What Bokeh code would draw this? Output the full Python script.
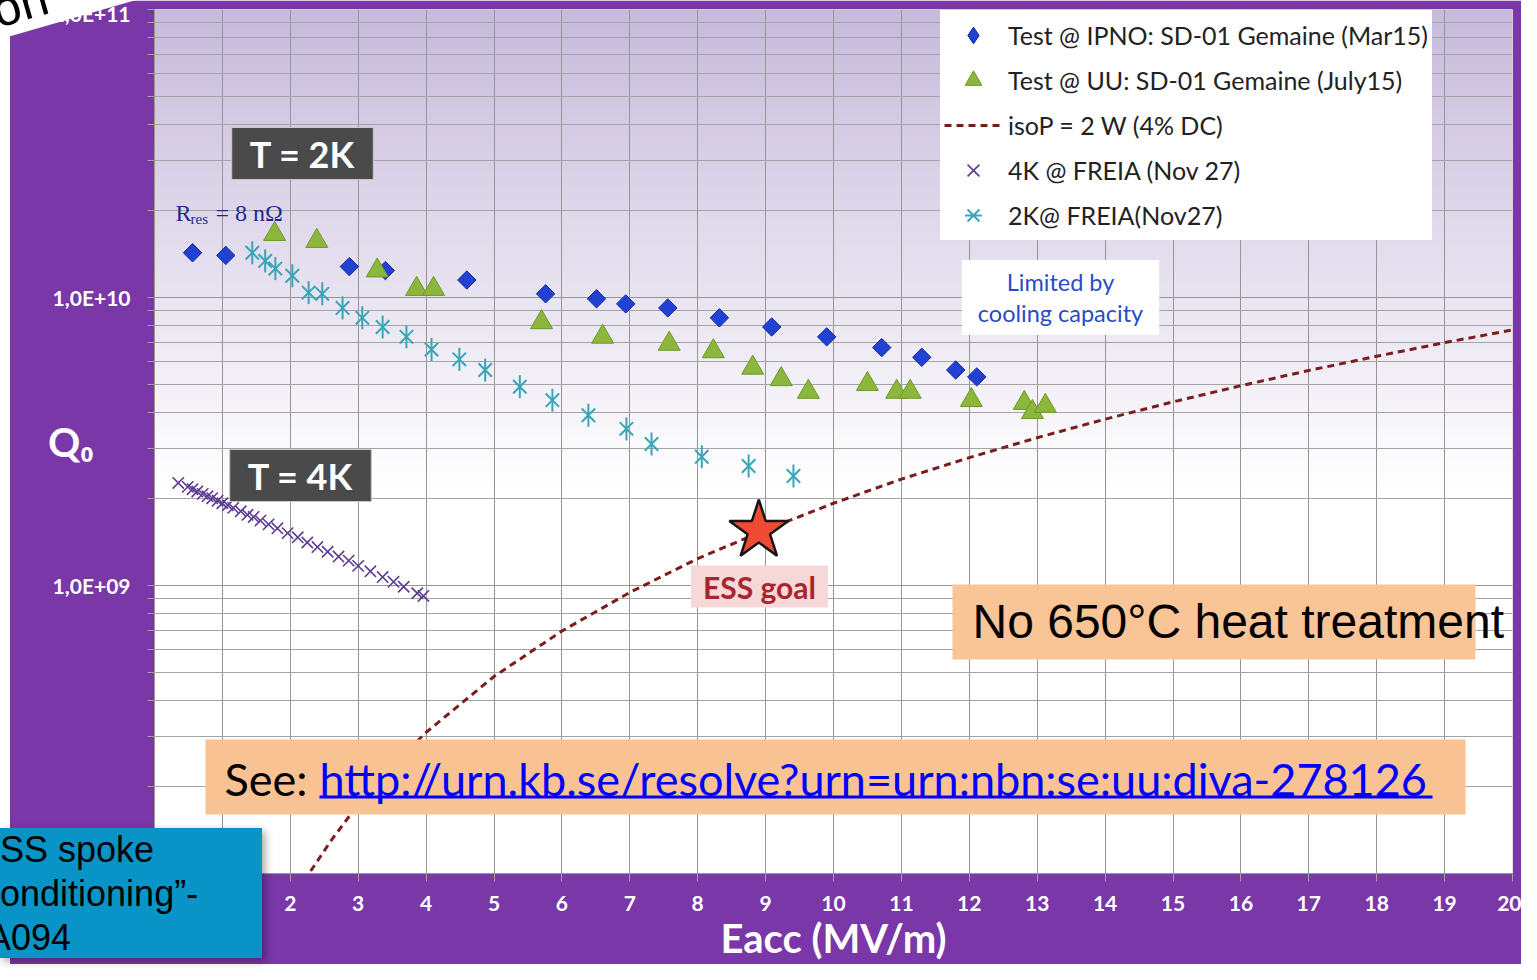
import numpy as np
from bokeh.plotting import figure
from bokeh.layouts import column
from bokeh.models import (Range1d, FixedTicker, Label, BoxAnnotation, Legend, LegendItem, Div)
from bokeh.embed import file_html
from bokeh.resources import INLINE

# ---------------- data ----------------
ipno_e = [0.56, 1.05, 2.87, 3.40, 4.60, 5.76, 6.51, 6.94, 7.56, 8.32, 9.09, 9.90, 10.71, 11.30, 11.80, 12.11]
ipno_q = [1.43e10, 1.40e10, 1.28e10, 1.24e10, 1.15e10, 1.03e10, 9.9e9, 9.5e9, 9.2e9, 8.5e9, 7.9e9, 7.3e9,
          6.7e9, 6.2e9, 5.6e9, 5.3e9]

uu_e = [1.77, 2.39, 3.28, 3.86, 4.11, 5.70, 6.60, 7.58, 8.23, 8.81, 9.23, 9.63, 10.50, 10.93, 11.13, 12.03,
        12.81, 12.93, 13.12]
uu_q = [1.66e10, 1.57e10, 1.24e10, 1.07e10, 1.07e10, 8.2e9, 7.3e9, 6.9e9, 6.5e9, 5.7e9, 5.2e9, 4.7e9, 5.0e9,
        4.7e9, 4.7e9, 4.4e9, 4.3e9, 4.0e9, 4.2e9]

iso_e = [2.3, 2.6, 3.0, 3.5, 4.0, 5.0, 6.0, 7.0, 8.0, 9.0, 10.0, 11.0, 12.0, 13.0, 14.0, 15.0, 16.0, 17.0,
         18.0, 19.0, 20.0]
iso_q = [1.02e8, 1.30e8, 1.74e8, 2.36e8, 3.09e8, 4.83e8, 6.95e8, 9.46e8, 1.24e9, 1.56e9, 1.93e9, 2.34e9,
         2.78e9, 3.26e9, 3.78e9, 4.34e9, 4.94e9, 5.58e9, 6.25e9, 6.97e9, 7.72e9]

f4_e = [0.35, 0.49, 0.56, 0.63, 0.71, 0.78, 0.85, 0.93, 1.00, 1.08, 1.16, 1.27, 1.37, 1.46, 1.56, 1.68, 1.81,
        1.96, 2.11, 2.25, 2.40, 2.55, 2.71, 2.86, 3.00, 3.18, 3.36, 3.52, 3.67, 3.87, 3.96]
f4_q = [2.27e9, 2.20e9, 2.16e9, 2.12e9, 2.08e9, 2.04e9, 2.01e9, 1.97e9, 1.93e9, 1.90e9, 1.86e9, 1.81e9,
        1.76e9, 1.73e9, 1.68e9, 1.63e9, 1.58e9, 1.52e9, 1.47e9, 1.41e9, 1.36e9, 1.31e9, 1.26e9, 1.22e9,
        1.17e9, 1.12e9, 1.07e9, 1.03e9, 9.9e8, 9.4e8, 9.2e8]

f2_e = [1.44, 1.63, 1.78, 2.03, 2.27, 2.47, 2.77, 3.06, 3.36, 3.71, 4.08, 4.49, 4.87, 5.38, 5.86, 6.39, 6.95,
        7.32, 8.06, 8.75, 9.41]
f2_q = [1.43e10, 1.34e10, 1.26e10, 1.19e10, 1.04e10, 1.03e10, 9.2e9, 8.5e9, 7.9e9, 7.3e9, 6.6e9, 6.1e9,
        5.6e9, 4.9e9, 4.4e9, 3.9e9, 3.5e9, 3.1e9, 2.8e9, 2.6e9, 2.4e9]

ess_e = [8.9]
ess_q = [1.55e9]

legend_labels = ["Test @ IPNO: SD-01 Gemaine (Mar15)", "Test @ UU: SD-01 Gemaine (July15)",
                 "isoP = 2 W (4% DC)", "4K @ FREIA (Nov 27)", "2K@ FREIA(Nov27)"]

x_ticks = list(range(0, 21))
y_ticks = [1e8, 1e9, 1e10, 1e11]
y_tick_labels = ["1,0E+08", "1,0E+09", "1,0E+10", "1,0E+11"]
y_minor = [m * 10.0 ** k for k in (8, 9, 10) for m in range(2, 10)]

# ---------------- figure ----------------
PURPLE = "#7a37a8"
FL, FB = 154, 874  # frame left / bottom in canvas pixels (for placing annotations)

p = figure(width=1521, height=964, x_range=Range1d(0, 20), y_range=Range1d(1e8, 1e11),
           y_axis_type="log", output_backend="svg", toolbar_location=None,
           min_border_left=154, min_border_right=9, min_border_top=9, min_border_bottom=90,
           border_fill_color=PURPLE, background_fill_color="white", outline_line_color=None)

# background gradient (lavender at top fading to white)
H = 256
frac_top = 1 - np.linspace(0, 1, H)
f = np.clip(frac_top / 0.55, 0, 1)
top_rgb = np.array([199, 187, 220])
rgb = top_rgb[None, :] * (1 - f)[:, None] + 255 * f[:, None]
img = np.zeros((H, 2), dtype=np.uint32)
view = img.view(dtype=np.uint8).reshape((H, 2, 4))
for c in range(3):
    view[:, :, c] = rgb[:, c].astype(np.uint8)[:, None]
view[:, :, 3] = 255
p.image_rgba(image=[img], x=0, y=1e8, dw=20, dh=1e11 - 1e8, level="image")

# grids
p.xgrid.ticker = FixedTicker(ticks=x_ticks)
p.xgrid.grid_line_color = "#959595"
p.ygrid.ticker = FixedTicker(ticks=y_ticks, minor_ticks=y_minor)
p.ygrid.grid_line_color = "#959595"
p.ygrid.minor_grid_line_color = "#a4a4a4"

# axes
for ax in (p.xaxis[0], p.yaxis[0]):
    ax.axis_line_color = "#9a9a9a"
    ax.major_tick_line_color = "#a0a0a0"
    ax.minor_tick_line_color = "#a0a0a0"
    ax.major_tick_in = 0
    ax.minor_tick_in = 0
    ax.major_label_text_color = "white"
    ax.major_label_text_font = "Lato"
    ax.major_label_text_font_style = "bold"
    ax.major_label_text_font_size = "21px"

p.xaxis.ticker = FixedTicker(ticks=x_ticks)
p.xaxis.major_tick_out = 8
p.xaxis.major_label_standoff = 14
p.xaxis.axis_label = "Eacc (MV/m)"
p.xaxis.axis_label_text_color = "white"
p.xaxis.axis_label_text_font = "Lato"
p.xaxis.axis_label_text_font_style = "bold"
p.xaxis.axis_label_text_font_size = "40px"
p.xaxis.axis_label_standoff = 0

p.yaxis.ticker = FixedTicker(ticks=y_ticks, minor_ticks=y_minor)
p.yaxis.major_label_overrides = dict(zip(y_ticks, y_tick_labels))
p.yaxis.major_tick_out = 7
p.yaxis.minor_tick_out = 7
p.yaxis.major_label_standoff = 17
p.yaxis.axis_label = "Q\u2080"
p.yaxis.axis_label_orientation = "horizontal"
p.yaxis.axis_label_text_color = "white"
p.yaxis.axis_label_text_font = "Lato"
p.yaxis.axis_label_text_font_style = "bold"
p.yaxis.axis_label_text_font_size = "40px"
p.yaxis.axis_label_standoff = -44

# ---------------- series ----------------
r_ipno = p.scatter(ipno_e, ipno_q, marker="square", angle=np.pi / 4, size=13,
                   fill_color="#2141d2", line_color="#14289a", line_width=1)
# same data drawn as "diamond" only for the legend entry (renderer itself hidden)
r_ipno_leg = p.scatter(ipno_e, ipno_q, marker="diamond", size=16, visible=False,
                       fill_color="#2141d2", line_color="#14289a", line_width=1)
r_uu = p.scatter(uu_e, uu_q, marker="triangle", size=22,
                 fill_color="#8cb63c", line_color="#6c992a", line_width=1)
r_iso = p.line(iso_e, iso_q, line_color="#7b1d1d", line_width=3, line_dash="7 5")
r_4k = p.scatter(f4_e, f4_q, marker="x", size=16, line_color="#5e3b92", line_width=1.6)
r_2k_a = p.scatter(f2_e, f2_q, marker="x", size=19, line_color="#39a5b9", line_width=2)
r_2k_b = p.scatter(f2_e, f2_q, marker="dash", angle=np.pi / 2, size=23, line_color="#39a5b9", line_width=2)
p.scatter(ess_e, ess_q, marker="star", size=62, fill_color="#ef4a32", line_color="#151515", line_width=2.5)

legend = Legend(items=[
    LegendItem(label=legend_labels[0], renderers=[r_ipno_leg]),
    LegendItem(label=legend_labels[1], renderers=[r_uu]),
    LegendItem(label=legend_labels[2], renderers=[r_iso]),
    LegendItem(label=legend_labels[3], renderers=[r_4k]),
    LegendItem(label=legend_labels[4], renderers=[r_2k_a, r_2k_b]),
], location=(940 - FL, FB - 241), orientation="vertical",
    glyph_width=58, glyph_height=42, label_height=42, spacing=3, padding=4, margin=0,
    label_standoff=6, label_text_font="Lato", label_text_font_size="25px", label_text_color="#222222",
    background_fill_color="white", background_fill_alpha=1.0, border_line_alpha=0,
    inactive_fill_alpha=0.0)
p.add_layout(legend)


# ---------------- annotations ----------------
def lab(text, x, y, size, color, font="Lato", style="normal", align="left", baseline="middle",
        bg=None, pad=None, angle=0.0, border=None, line_height=1.2):
    lb = Label(x=x - FL, y=FB - y, x_units="screen", y_units="screen", text=text, text_font=font,
               text_font_size=f"{size}px", text_color=color, text_font_style=style, text_align=align,
               text_baseline=baseline, angle=angle, text_line_height=line_height)
    if bg is not None:
        lb.background_fill_color = bg
        lb.background_fill_alpha = 1.0
    if pad is not None:
        lb.padding = pad
    if border is not None:
        lb.border_line_color = border
        lb.border_line_width = 1
    p.add_layout(lb)
    return lb


def box(left, right, top, bottom, color):
    b = BoxAnnotation(left=left - FL, right=right - FL, top=FB - top, bottom=FB - bottom,
                      left_units="screen", right_units="screen", top_units="screen", bottom_units="screen",
                      fill_color=color, fill_alpha=1.0, line_color=None, level="annotation")
    p.add_layout(b)
    return b


lab("T = 2K", 302, 154, 36, "white", style="bold", align="center", bg="#4a4a4a", border="#c8c8c8",
    pad=dict(left=18, right=18, top=4, bottom=4))
lab("T = 4K", 300, 476, 36, "white", style="bold", align="center", bg="#4a4a4a", border="#c8c8c8",
    pad=dict(left=18, right=18, top=4, bottom=4))

lab("R", 175, 213, 24, "#1e2b8e", font="Liberation Serif")
lab("res", 190, 219, 15, "#1e2b8e", font="Liberation Serif")
lab("= 8 n\u03a9", 215, 213, 24, "#1e2b8e", font="Liberation Serif")

lab("Limited by\ncooling capacity", 1060, 298, 23.5, "#2a4bc6", align="center", bg="white",
    pad=dict(left=16, right=16, top=8, bottom=8), line_height=1.1)

lab("ESS goal", 759, 587, 30, "#a8262b", style="bold", align="center", bg="#f6d8d8",
    pad=dict(left=12, right=12, top=3, bottom=3))

box(952, 1475, 585, 660, "#f9c597")
lab("No 650\u00b0C heat treatment", 972, 622, 48, "black", font="Liberation Sans")

box(205, 1465, 740, 815, "#f9c293")
lab("See:", 224, 779, 45, "black")
lab("http://urn.kb.se/resolve?urn=urn:nbn:se:uu:diva-278126", 319, 779, 45, "#0000ff")
box(319, 1432, 796, 799, "#0000ff")

# ---------------- slide overlays outside the plot frame ----------------
left_strip = Div(text='<div style="width:10px;height:964px;background:white"></div>',
                 width=10, height=964,
                 styles={"position": "absolute", "left": "0px", "top": "0px", "z-index": "5", "margin": "0"})

blue_box = Div(
    text=('<div style="width:262px;height:130px;background:#0894c6;box-shadow:3px 3px 8px rgba(0,0,0,0.35);'
          'font-family:\'Liberation Sans\';font-size:36px;line-height:44px;color:black;'
          'white-space:nowrap;overflow:hidden">'
          'SS spoke<br>onditioning\u201d-<br><span style="margin-left:-13px">A094</span></div>'),
    width=262, height=130,
    styles={"position": "absolute", "left": "0px", "top": "828px", "z-index": "10", "margin": "0"})

wedge = Div(
    text=('<div style="position:relative;width:150px;height:42px">'
          '<div style="position:absolute;left:0px;top:0px;width:150px;height:42px;background:white;'
          'clip-path:polygon(0px 0px,136px 0px,11px 36px,0px 36px)"></div>'
          '<span style="position:absolute;left:-2px;top:-14px;font-family:\'Liberation Sans\';'
          'font-size:50px;line-height:50px;color:black;transform:rotate(-16deg);'
          'transform-origin:0px 42px">on</span></div>'),
    width=150, height=42,
    styles={"position": "absolute", "left": "0px", "top": "0px", "z-index": "10", "margin": "0"})

layout = column(p, left_strip, blue_box, wedge, styles={"position": "relative"})

open("out.html", "w").write(file_html(layout, INLINE))
